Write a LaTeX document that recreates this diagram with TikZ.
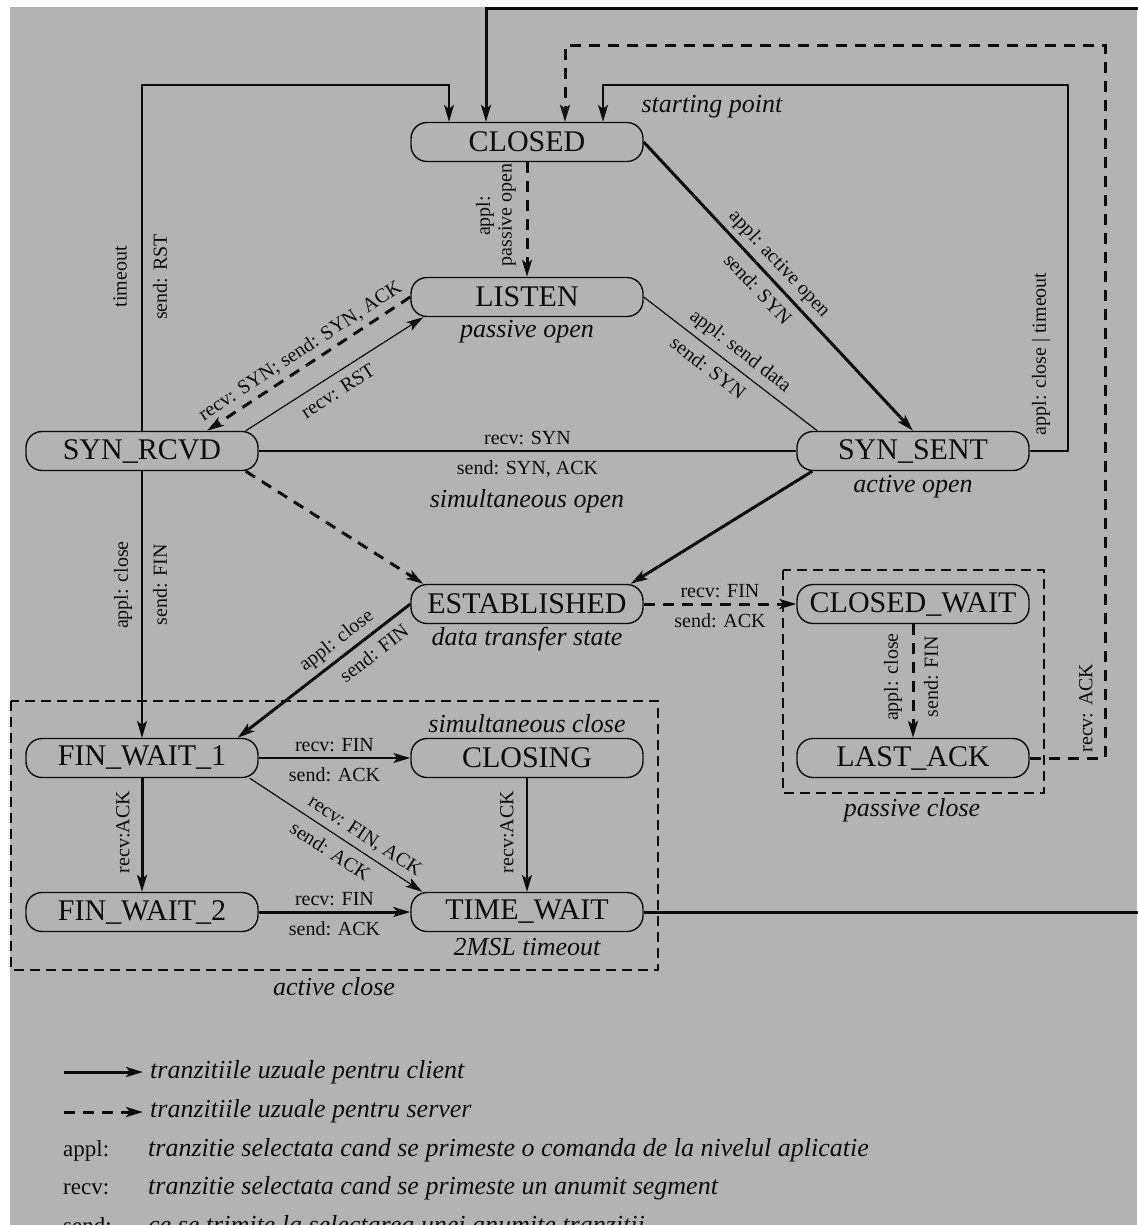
\documentclass[tikz,border=0pt]{standalone}
\usepackage{fontspec}
\setmainfont{Liberation Serif}
\usetikzlibrary{arrows.meta,calc}
\definecolor{bg}{RGB}{179,179,179}
\definecolor{ink}{RGB}{12,12,12}
\begin{document}
\begin{tikzpicture}[x=1pt,y=-1pt,
  state/.style={draw=ink, line width=1.4pt, rounded corners=16pt, minimum width=232pt, minimum height=39pt, inner sep=0pt, font=\fontsize{30}{30}\selectfont, text=ink},
  lbl/.style={font=\fontsize{20}{22}\selectfont, inner sep=0pt, outer sep=0pt, text=ink},
  hlA/.style={lbl, above, outer ysep=6.5pt},
  hlB/.style={lbl, below, outer ysep=9.5pt},
  vlbl/.style={lbl, rotate=90},
  note/.style={font=\fontsize{26}{26}\selectfont\itshape, inner sep=0pt, text=ink},
  legl/.style={font=\fontsize{23}{23}\selectfont, inner sep=0pt, text=ink, anchor=base west},
  tip/.style={-{Stealth[length=17pt,width=10pt,inset=4pt]}},
  client/.style={draw=ink, line width=3pt, tip},
  clientline/.style={draw=ink, line width=3pt},
  server/.style={draw=ink, line width=3pt, dash pattern=on 11pt off 8pt, tip},
  thinarrow/.style={draw=ink, line width=1.2pt, tip},
  thinline/.style={draw=ink, line width=1.2pt},
  closebox/.style={draw=ink, line width=1.3pt, dash pattern=on 10pt off 6pt},
]
% page and background
\useasboundingbox (0,0) rectangle (1137,1225);
\fill[white] (0,0) rectangle (1137,1225);
\fill[bg] (10,7) rectangle (1137,1225);

% dashed group boxes
\draw[closebox] (11,701) rectangle (658,970);
\draw[closebox] (783,570) rectangle (1044,793);

% states
\node[state] (closed)      at (527,142) {CLOSED};
\node[state] (listen)      at (527,297) {LISTEN};
\node[state] (synrcvd)     at (142,451) {SYN\_RCVD};
\node[state] (synsent)     at (913,451) {SYN\_SENT};
\node[state] (established) at (527,604) {ESTABLISHED};
\node[state] (closedwait)  at (913,604) {CLOSED\_WAIT};
\node[state] (finwait1)    at (142,758) {FIN\_WAIT\_1};
\node[state] (closing)     at (527,758) {CLOSING};
\node[state] (lastack)     at (913,758) {LAST\_ACK};
\node[state] (finwait2)    at (142,912) {FIN\_WAIT\_2};
\node[state] (timewait)    at (527,912) {TIME\_WAIT};

% route bends and free ends
\coordinate (topR)   at (1140,8.5);
\coordinate (bend1)  at (142,85);
\coordinate (bend2)  at (1068,85);
\coordinate (bend3)  at (1105,46);
\coordinate (rightR) at (1140,912);

% connectors into CLOSED from above
\draw[client] (topR) -| ([xshift=-41pt]closed.north);
\draw[thinarrow] (synrcvd.north) -- (bend1) -| ([xshift=-78pt]closed.north);
\draw[thinarrow] (synsent.east) -| (bend2) -| ([xshift=76pt]closed.north);
\draw[server] (lastack.east) -| (bend3) -| ([xshift=38pt]closed.north);

\node[vlbl] (l_timeout) at (120,277) {timeout};
\node[vlbl] (l_sendrst) at (160,277) {send: RST};
\node[vlbl] (l_closeto) at (1041,354) {appl: close | timeout};
\node[vlbl] (l_recvack) at (1086,708) {recv: ACK};

% CLOSED -> LISTEN
\draw[server] (closed.south) -- (listen.north);
\node[vlbl] (l_appl1) at (485,216) {appl:};
\node[vlbl] (l_popen) at (507,215) {passive open};

% CLOSED -> SYN_SENT
\draw[client] (closed.east) -- (synsent.north)
  node[pos=0.46, sloped, hlA] (l_aopen) {appl: active open}
  node[pos=0.47, sloped, hlB] (l_ssyn1) {send: SYN};

% LISTEN -> SYN_SENT
\draw[thinline] (listen.east) -- ([xshift=21pt]synsent.north west)
  node[pos=0.5, sloped, hlA] (l_sdata) {appl: send data}
  node[pos=0.43, sloped, hlB] (l_ssyn2) {send: SYN};

% LISTEN -> SYN_RCVD
\draw[server] (listen.west) -- ([xshift=65pt]synrcvd.north)
  node[pos=0.5, sloped, hlA] (l_rsyn) {recv: SYN; send: SYN, ACK};

% SYN_RCVD -> LISTEN
\draw[thinarrow] ([xshift=-13pt]synrcvd.north east) -- ([xshift=13pt]listen.south west)
  node[pos=0.47, sloped, hlB] (l_rrst) {recv: RST};

% SYN_RCVD -- SYN_SENT
\draw[thinline] (synrcvd.east) -- (synsent.west)
  node[midway, hlA] (l_rsyn2) {recv: SYN}
  node[midway, hlB] (l_ssynack) {send: SYN, ACK};

% to ESTABLISHED
\draw[server] ([xshift=-13pt]synrcvd.south east) -- ([xshift=13pt]established.north west);
\draw[client] ([xshift=16pt]synsent.south west) -- ([xshift=-13pt]established.north east);

% ESTABLISHED -> CLOSED_WAIT
\draw[server] (established.east) -- (closedwait.west)
  node[midway, hlA] (l_rfin1) {recv: FIN}
  node[midway, hlB] (l_sack1) {send: ACK};

% CLOSED_WAIT -> LAST_ACK
\draw[server] (closedwait.south) -- (lastack.north);
\node[vlbl] (l_aclose3) at (893,677) {appl: close};
\node[vlbl] (l_sfin3)   at (931,677) {send: FIN};

% ESTABLISHED -> FIN_WAIT_1
\draw[client] (established.west) -- ([xshift=-21pt]finwait1.north east)
  node[pos=0.37, sloped, hlA] (l_aclose2) {appl: close}
  node[pos=0.27, sloped, hlB] (l_sfin2) {send: FIN};

% SYN_RCVD -> FIN_WAIT_1
\draw[thinarrow] (synrcvd.south) -- (finwait1.north);
\node[vlbl] (l_aclose1) at (123,585) {appl: close};
\node[vlbl] (l_sfin1)   at (160,585) {send: FIN};

% FIN_WAIT_1 -> CLOSING
\draw[thinarrow] (finwait1.east) -- (closing.west)
  node[midway, hlA] (l_rfin2) {recv: FIN}
  node[midway, hlB] (l_sack2) {send: ACK};

% FIN_WAIT_1 -> TIME_WAIT
\draw[thinarrow] ([xshift=-9pt]finwait1.south east) -- ([xshift=12pt]timewait.north west)
  node[pos=0.62, sloped, hlA] (l_rfinack) {recv: FIN, ACK}
  node[pos=0.52, sloped, hlB] (l_sack3) {send: ACK};

% FIN_WAIT_1 -> FIN_WAIT_2
\draw[client] (finwait1.south) -- (finwait2.north);
\node[vlbl] (l_rack1) at (123,832) {recv:ACK};

% CLOSING -> TIME_WAIT
\draw[thinarrow] (closing.south) -- (timewait.north);
\node[vlbl] (l_rack2) at (507,832) {recv:ACK};

% FIN_WAIT_2 -> TIME_WAIT
\draw[client] (finwait2.east) -- (timewait.west)
  node[midway, hlA] (l_rfin3) {recv: FIN}
  node[midway, hlB] (l_sack4) {send: ACK};

% TIME_WAIT -> out (back to CLOSED)
\draw[clientline] (timewait.east) -- (rightR);

% notes
\node[note] (n_start)  at (712,107) {starting point};
\node[note] (n_popen)  at (527,332) {passive open};
\node[note] (n_aopen)  at (913,487) {active open};
\node[note] (n_simo)   at (527,501) {simultaneous open};
\node[note] (n_data)   at (527,639) {data transfer state};
\node[note] (n_simc)   at (527,724) {simultaneous close};
\node[note] (n_2msl)   at (527,947) {2MSL timeout};
\node[note] (n_aclose) at (334,987) {active close};
\node[note] (n_pclose) at (912,810) {passive close};

% legend
\coordinate (lg1a) at (64,1072);
\coordinate (lg1b) at (143,1072);
\coordinate (lg2a) at (64,1112);
\coordinate (lg2b) at (143,1112);
\draw[client] (lg1a) -- (lg1b);
\draw[server] (lg2a) -- (lg2b);
\node[note, anchor=base west] (lt1) at (150,1078) {tranzitiile uzuale pentru client};
\node[note, anchor=base west] (lt2) at (150,1117) {tranzitiile uzuale pentru server};
\node[legl] (lk3) at (63,1156) {appl:};
\node[note, anchor=base west] (lt3) at (148,1156) {tranzitie selectata cand se primeste o comanda de la nivelul aplicatie};
\node[legl] (lk4) at (63,1194) {recv:};
\node[note, anchor=base west] (lt4) at (148,1194) {tranzitie selectata cand se primeste un anumit segment};
\node[legl] (lk5) at (63,1233) {send:};
\node[note, anchor=base west] (lt5) at (148,1233) {ce se trimite la selectarea unei anumite tranzitii};
\end{tikzpicture}
\end{document}
